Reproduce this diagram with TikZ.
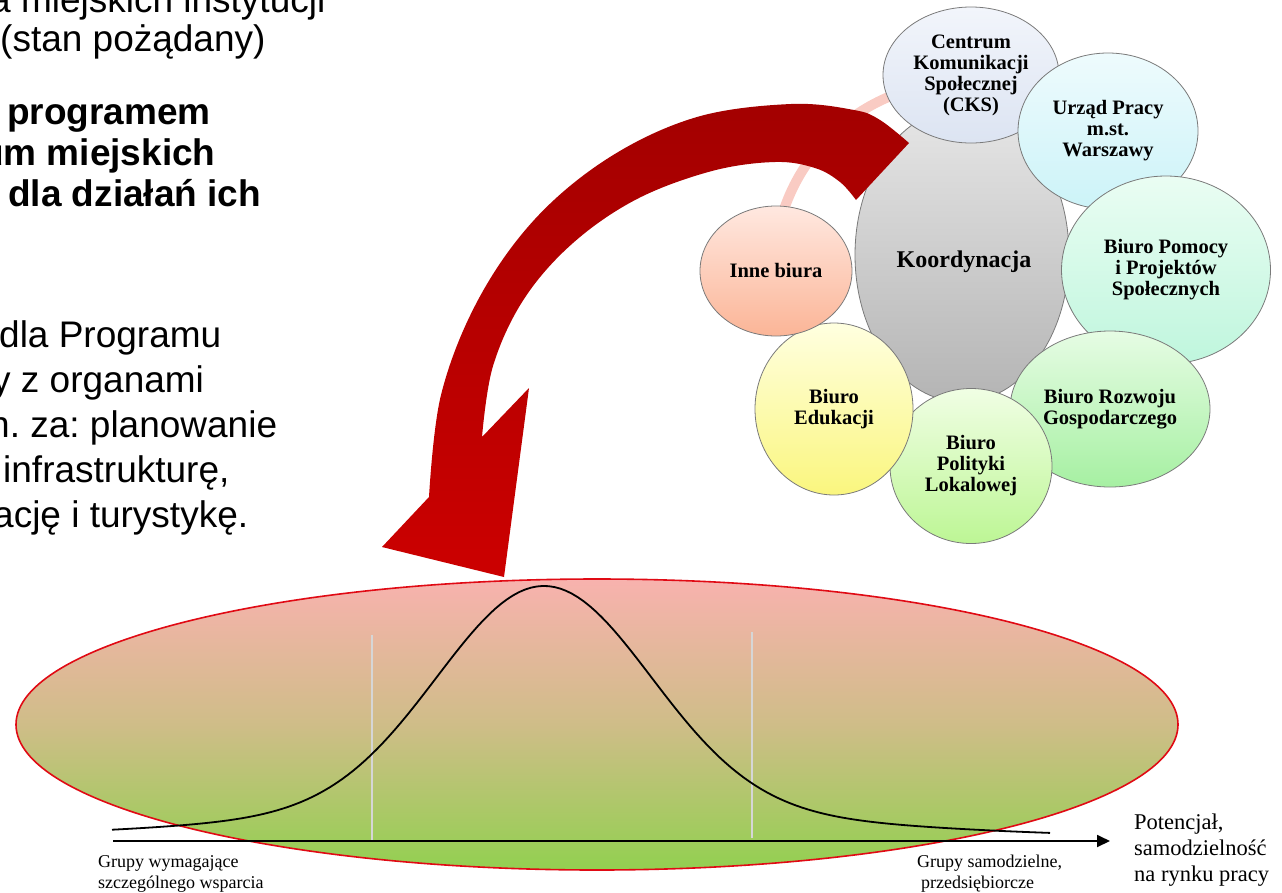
\documentclass[tikz,border=0pt]{standalone}
\usepackage{fontspec}
\setmainfont{Liberation Serif}
\newfontfamily\arialf{Liberation Sans}
\usetikzlibrary{shapes.geometric,arrows.meta}
\definecolor{cksT}{HTML}{F2F5FB}\definecolor{cksB}{HTML}{DCE4F2}
\definecolor{urzT}{HTML}{EEFBFD}\definecolor{urzB}{HTML}{CCF3F8}
\definecolor{pomT}{HTML}{EAFDF3}\definecolor{pomB}{HTML}{BFF6DD}
\definecolor{rozT}{HTML}{E6FCE4}\definecolor{rozB}{HTML}{A6F0A2}
\definecolor{polT}{HTML}{F0FEE4}\definecolor{polB}{HTML}{BDF695}
\definecolor{eduT}{HTML}{FFFFE0}\definecolor{eduB}{HTML}{FAF67E}
\definecolor{innT}{HTML}{FFE8E0}\definecolor{innB}{HTML}{FBB597}
\definecolor{korT}{HTML}{E6E6E6}\definecolor{korB}{HTML}{B4B4B4}
\definecolor{bubLine}{HTML}{7A7A7A}
\definecolor{poolT}{HTML}{F8B2AE}\definecolor{poolM}{HTML}{CFBD88}\definecolor{poolB}{HTML}{92D050}
\definecolor{poolRed}{HTML}{E00A14}
\definecolor{arrDark}{HTML}{A30000}\definecolor{arrBright}{HTML}{CC0000}
\definecolor{pinkArc}{HTML}{F9CBC3}
\definecolor{guide}{HTML}{D6D6D6}
\frenchspacing
\begin{document}
\begin{tikzpicture}[x=1pt,y=-1pt,
  bubble/.style={ellipse, draw=bubLine, line width=0.8pt, inner sep=0pt, align=center,
    font=\fontsize{20.5}{21}\selectfont\bfseries},
  slide/.style={anchor=base west, inner sep=0pt, font=\arialf\fontsize{37}{40}\selectfont\frenchspacing},
  slideb/.style={slide, font=\arialf\fontsize{37}{40}\selectfont\bfseries},
  lbl/.style={anchor=base west, inner sep=0pt, font=\fontsize{18}{21}\selectfont},
  lblbig/.style={anchor=base west, inner sep=0pt, font=\fontsize{22.5}{26}\selectfont},
  guideline/.style={draw=guide, line width=1.4pt}]
\useasboundingbox (0,0) rectangle (1282,892);

% left slide text
\node[slide] (t0) at (-10,12) {a miejskich instytucji};
\node[slide] (t1) at (0,51) {(stan pożądany)};
\node[slideb] (t2) at (7,124) {programem};
\node[slideb] (t3) at (-19,165) {um miejskich};
\node[slideb] (t4) at (8,206) {dla działań ich};
\node[slide] (t5) at (-1,347) {dla Programu};
\node[slide] (t6) at (-8,392) {y z organami};
\node[slide] (t7) at (-11,437) {n. za: planowanie};
\node[slide] (t8) at (3,482) {infrastrukturę,};
\node[slide] (t9) at (-7,527) {ację i turystykę.};

% pink arc
\draw[pinkArc, line width=10pt] plot[domain=197:252, samples=40] ({962+188*cos(\x)}, {270+188*sin(\x)});

% bubbles
\node[ellipse, draw=bubLine, line width=0.8pt, top color=korT, bottom color=korB,
  minimum width=214pt, minimum height=294pt, inner sep=0pt] (koord) at (962,255) {};
\node[inner sep=0pt, font=\fontsize{24}{26}\selectfont\bfseries] (koordtxt) at (964,262) {Koordynacja};
\node[bubble, top color=cksT, bottom color=cksB, minimum width=176pt, minimum height=136pt] (cks) at (971,75) {Centrum\\Komunikacji\\Społecznej\\(CKS)};
\node[bubble, top color=urzT, bottom color=urzB, minimum width=180pt, minimum height=156pt] (urzad) at (1108,131) {Urząd Pracy\\m.st.\\Warszawy};
\node[bubble, top color=pomT, bottom color=pomB, minimum width=209pt, minimum height=188pt] (pomocy) at (1166,270) {Biuro Pomocy\\i Projektów\\Społecznych};
\node[bubble, top color=rozT, bottom color=rozB, minimum width=200pt, minimum height=156pt] (rozwoju) at (1110,409) {Biuro Rozwoju\\Gospodarczego};
\node[bubble, top color=polT, bottom color=polB, minimum width=162pt, minimum height=155pt] (polityki) at (971,466) {Biuro\\Polityki\\Lokalowej};
\node[bubble, top color=eduT, bottom color=eduB, minimum width=158pt, minimum height=172pt] (edukacji) at (834,409) {Biuro\\Edukacji};
\node[bubble, top color=innT, bottom color=innB, minimum width=152pt, minimum height=130pt] (inne) at (776,271) {Inne biura};

% bottom ellipse
\node[ellipse, draw=poolRed, line width=1.6pt, top color=poolT, bottom color=poolB, middle color=poolM,
  minimum width=1162pt, minimum height=291pt, inner sep=0pt] (pool) at (597,724.5) {};

% guide lines
\coordinate (gA1) at (372,635); \coordinate (gA2) at (372,841);
\coordinate (gB1) at (752,632); \coordinate (gB2) at (752,838);
\draw[guideline] (gA1) -- (gA2);
\draw[guideline] (gB1) -- (gB2);

% bell curve
\draw[black, line width=1.8pt] plot[domain=112:1050, samples=160]
  (\x, {838 - 222*exp(-((\x-544)/150)^2) - 30*exp(-((\x-544)/380)^2)});

% axis
\coordinate (axL) at (113,841); \coordinate (axR) at (1110,841);
\draw[black, line width=1.8pt, -{Triangle[length=13pt,width=12pt]}] (axL) -- (axR);

% labels
\node[lbl] (la1) at (98,867) {Grupy wymagające};
\node[lbl] (la2) at (98,888) {szczególnego wsparcia};
\node[lbl] (lb1) at (917,867) {Grupy samodzielne,};
\node[lbl] (lb2) at (921,888) {przedsiębiorcze};
\node[lblbig] (lc1) at (1134,829) {Potencjał,};
\node[lblbig] (lc2) at (1134,855) {samodzielność};
\node[lblbig] (lc3) at (1134,881) {na rynku pracy};

% red curved arrow
\shade[top color=arrDark, bottom color=arrBright]
  plot[smooth, tension=0.6] coordinates {(909,143) (880,120) (854,110) (791,104) (697,117) (610,157) (535,219) (478,300) (441,395) (429,497)}
  -- (382,547) -- (504,577) -- (529,388) -- (482,437)
  -- plot[smooth, tension=0.6] coordinates {(482,437) (493,366) (524,299) (573,243) (637,199) (712,171) (775,162) (815,168) (840,182) (856,200)}
  -- cycle;
\end{tikzpicture}
\end{document}
